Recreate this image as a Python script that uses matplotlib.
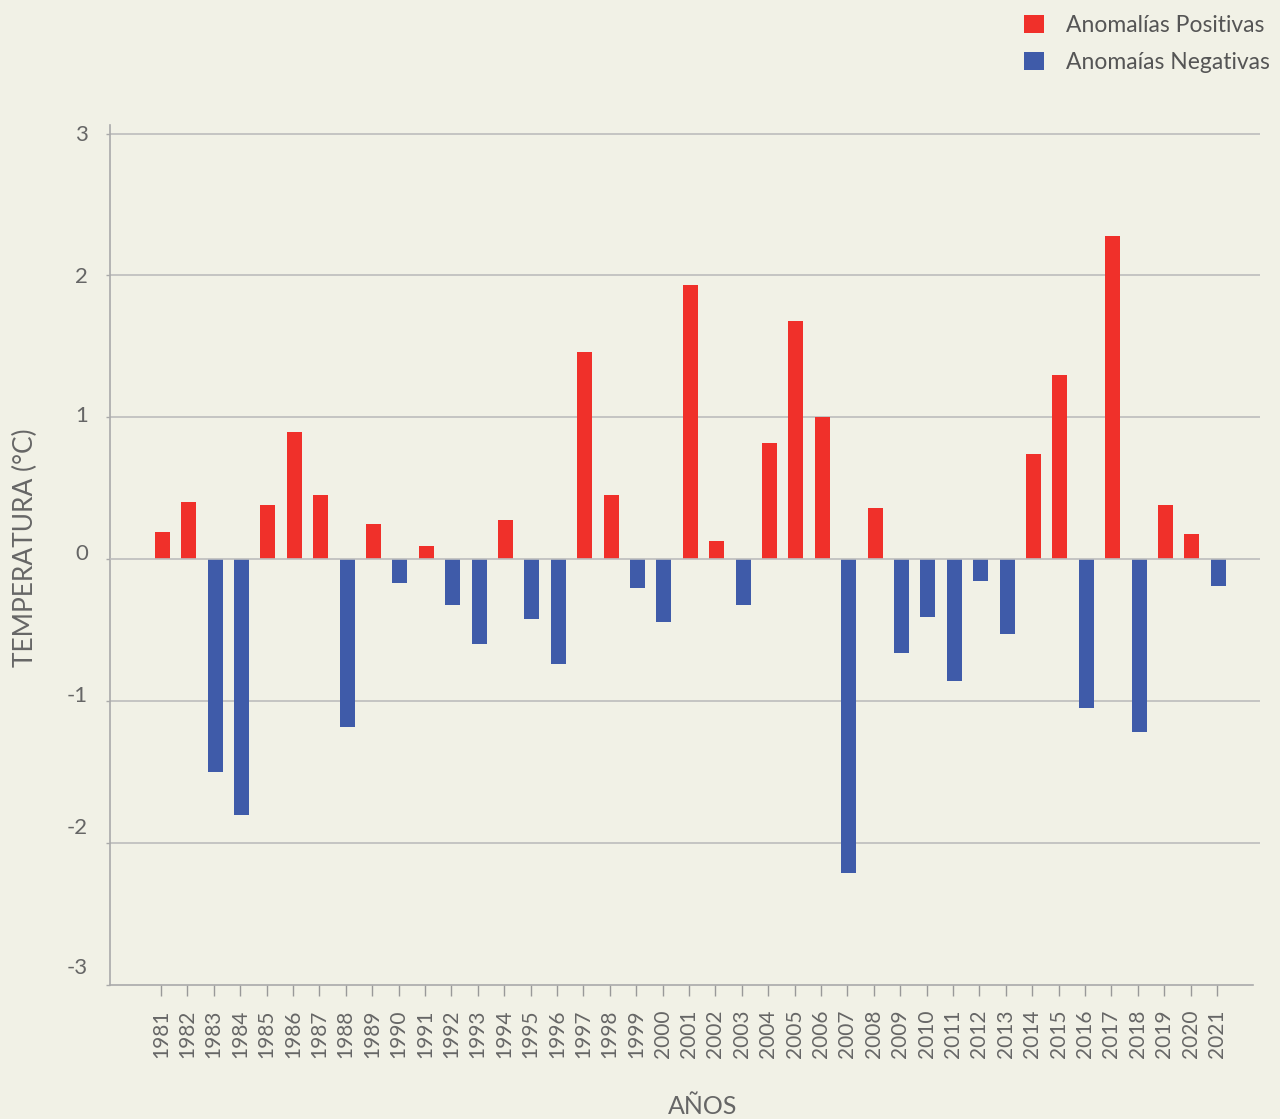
import matplotlib.pyplot as plt
import numpy as np

years = list(range(1981, 2022))
anomalias = [0.19, 0.40, -1.50, -1.80, 0.38, 0.90, 0.45, -1.18, 0.25, -0.17,
             0.09, -0.32, -0.60, 0.28, -0.42, -0.74, 1.46, 0.45, -0.20, -0.44,
             1.93, 0.13, -0.32, 0.82, 1.68, 1.00, -2.21, 0.36, -0.66, -0.41,
             -0.86, -0.15, -0.53, 0.74, 1.30, -1.05, 2.28, -1.22, 0.38, 0.18,
             -0.19]
y_ticks = [-3, -2, -1, 0, 1, 2, 3]

bg = "#f1f1e6"
red = "#f0302a"
blue = "#3f5ba9"
txt = "#666666"
gridc = "#bdbdbd"

plt.rcParams['font.family'] = ['Lato', 'DejaVu Sans']

fig = plt.figure(figsize=(12.8, 11.19), dpi=100, facecolor=bg)
ax = fig.add_axes([110 / 1280, 1 - 985 / 1119, 1150 / 1280, 860 / 1119])
ax.set_facecolor(bg)

x = np.array(years)
v = np.array(anomalias)
ax.bar(x[v > 0] + 0.05, v[v > 0], width=0.57, color=red, zorder=3,
       label="Anomalías Positivas")
ax.bar(x[v < 0] + 0.05, v[v < 0], width=0.57, color=blue, zorder=3,
       label="Anomaías Negativas")

ax.set_xlim(1979.07, 2022.63)
ax.set_ylim(-3.0, 3.06)
ax.set_xticks(years)
ax.set_xticklabels([str(y) for y in years], rotation=90, fontsize=15, color=txt)
ax.set_yticks(y_ticks)
ax.set_yticklabels([])

# y labels drawn by hand: in the original they drift upward toward the bottom
shifts = [12, 11, 4, 4, 1, -1, -1]
for t, s in zip(y_ticks, shifts):
    ax.annotate(str(t), xy=(0, t), xycoords=("axes fraction", "data"),
                xytext=(-16, s), textcoords="offset points",
                ha="right", va="center", fontsize=16, color=txt)

for t in y_ticks[1:]:
    ax.axhline(t, color=gridc, lw=1.2, zorder=2 if t != 0 else 4)

for s in ["top", "right"]:
    ax.spines[s].set_visible(False)
ax.spines["left"].set_color("#aaaaaa")
ax.spines["bottom"].set_color("#aaaaaa")
ax.spines["left"].set_linewidth(1.2)
ax.spines["bottom"].set_linewidth(1.2)
ax.spines["bottom"].set_bounds(1979.07, 2022.36)

ax.tick_params(axis="x", length=8, width=1, color="#999999", pad=10)
ax.tick_params(axis="y", length=3, width=1, color="#aaaaaa")

fig.text(25 / 1280, 1 - 548 / 1119, "TEMPERATURA (°C)", rotation=90, ha="center",
         va="center", fontsize=19, color=txt)
fig.text(703 / 1280, 1 - 1106 / 1119, "AÑOS", ha="center", va="center",
         fontsize=18, color=txt)

leg = fig.legend(loc="upper right", bbox_to_anchor=(1291 / 1280, 1 + 6 / 1119),
                 frameon=False, fontsize=16.5, labelcolor="#555555",
                 handlelength=0.85, handleheight=0.85, handletextpad=1.0,
                 labelspacing=0.7)

fig.savefig("out.png", dpi=100, facecolor=bg)
